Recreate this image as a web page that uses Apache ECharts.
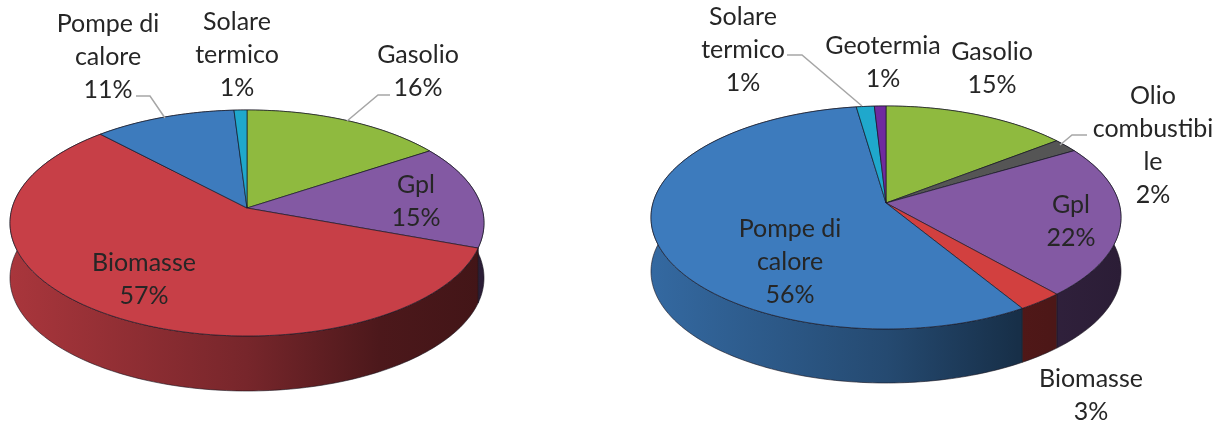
<!DOCTYPE html>
<html><head><meta charset="utf-8">
<style>html,body{margin:0;padding:0;background:#fff}#c{width:1220px;height:426px;filter:blur(0.6px)}</style>
<script src="https://cdn.jsdelivr.net/npm/echarts@6/dist/echarts.min.js"></script>
</head><body><div id="c"></div>
<script>
// ---- data ----
const namesA  = ['Gasolio','Gpl','Biomasse','Pompe di\ncalore','Solare\ntermico'];
const valuesA = [15.7,14.9,57.4,11,1];
const colorsA = ['#8fba3f','#8359a3','#c73f47','#3d7bbd','#1fa8cc'];
const namesB  = ['Gasolio','Olio\ncombustibi\nle','Gpl','Biomasse','Pompe di\ncalore','Solare\ntermico','Geotermia'];
const valuesB = [14.5,2,22,2.8,56.4,1.4,0.9];
const colorsB = ['#8fba3f','#555555','#8359a3','#d2403f','#3d7bbd','#1fa8cc','#6f2a9f'];
// ---- layout ----
const geomA = {cx:247,cy:208,rx:237,top:98,bottom:128,depth:55};
const geomB = {cx:886,cy:203,rx:235,top:97,bottom:126,depth:54};
const labelPosA = [[418,71],[416,201],[144,279],[108,57],[237,55]];
const labelPosB = [[992,68],[1153,145],[1071,221],[1091,395],[790,262],[743,50],[883,62]];
const leadersA = [[[136,96],[150,96],[165,118]],[[390,95],[378,95],[347,121]]];
const leadersB = [[[787,55],[802,55],[862,106]],[[1087,135],[1072,135],[1060,145]]];
const FONT = 'Lato, "Open Sans", sans-serif', FS = 25, LH = 33;

function proj(g,t){ // circle -> perspective ellipse, apex at (cx,cy)
  const k=(g.bottom-g.top)/(g.bottom+g.top), ry0=g.top*(1+k);
  const u=Math.sin(t), v=-Math.cos(t), w=1-k*v;
  return [g.cx+u*g.rx*Math.sqrt(1-k*k)/w, g.cy+v*ry0/w];
}
function shade(hex,m){
  const n=parseInt(hex.slice(1),16);
  return 'rgb('+[(n>>16)&255,(n>>8)&255,n&255].map(c=>Math.round(c*m)).join(',')+')';
}
function arcPts(g,a0,a1){
  const n=Math.max(2,Math.ceil((a1-a0)/0.02)),p=[];
  for(let i=0;i<=n;i++)p.push(proj(g,a0+(a1-a0)*i/n));
  return p;
}
function makeSeries(values,colors,names,g,labelPos,leaders){
  const total=values.reduce((a,b)=>a+b,0), start=[]; let acc=0;
  values.forEach(v=>{start.push(acc/total*2*Math.PI);acc+=v;});
  const ang=i=>[start[i],start[i]+values[i]/total*2*Math.PI];
  const idx=values.map((_,i)=>i);
  const side={type:'custom',coordinateSystem:'none',silent:true,z:1,data:idx,renderItem(p,api){
    const i=api.value(0),[a0,a1]=ang(i),c=colors[i],pts=arcPts(g,a0,a1);
    const poly=pts.concat(pts.slice().reverse().map(q=>[q[0],q[1]+g.depth]));
    return {type:'polygon',shape:{points:poly},style:{
      fill:{type:'linear',global:true,x:g.cx-g.rx,y:0,x2:g.cx+g.rx,y2:0,colorStops:[
        {offset:0,color:shade(c,.85)},{offset:.5,color:shade(c,.6)},
        {offset:.78,color:shade(c,.38)},{offset:1,color:shade(c,.33)}]},
      stroke:'rgba(25,20,30,.6)',lineWidth:1}};
  }};
  const top={type:'custom',coordinateSystem:'none',silent:true,z:2,data:idx,renderItem(p,api){
    const i=api.value(0),[a0,a1]=ang(i);
    return {type:'polygon',shape:{points:[[g.cx,g.cy]].concat(arcPts(g,a0,a1))},
      style:{fill:colors[i],stroke:'rgba(25,25,40,.7)',lineWidth:1}};
  }};
  const lead={type:'custom',coordinateSystem:'none',silent:true,z:3,data:leaders.map((_,i)=>i),renderItem(p,api){
    return {type:'polyline',shape:{points:leaders[api.value(0)]},style:{fill:'none',stroke:'#a6a6a6',lineWidth:1.5}};
  }};
  const text={type:'custom',coordinateSystem:'none',silent:true,z:4,data:idx,renderItem(p,api){
    const i=api.value(0);
    return {type:'text',x:labelPos[i][0],y:labelPos[i][1],style:{
      text:names[i]+'\n'+Math.round(values[i])+'%',font:FS+'px '+FONT,lineHeight:LH,
      align:'center',verticalAlign:'middle',fill:'#262626'}};
  }};
  return [side,top,lead,text];
}
const chart=echarts.init(document.getElementById('c'),null,{renderer:'canvas'});
chart.setOption({animation:false,backgroundColor:'#fff',series:[
  ...makeSeries(valuesA,colorsA,namesA,geomA,labelPosA,leadersA),
  ...makeSeries(valuesB,colorsB,namesB,geomB,labelPosB,leadersB)
]});
</script></body></html>
